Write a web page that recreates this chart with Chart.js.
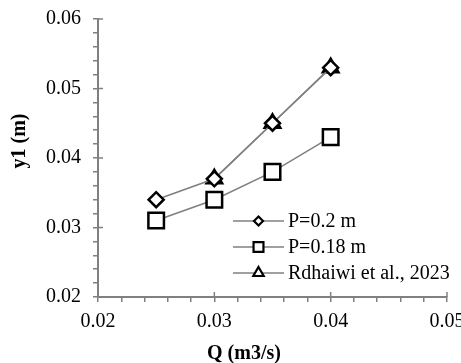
<!DOCTYPE html>
<html>
<head>
<meta charset="utf-8">
<script src="https://cdn.jsdelivr.net/npm/chart.js@4"></script>
<style>
  html, body { margin: 0; padding: 0; background: #fff; }
  #wrap { width: 461px; height: 363px; position: relative; }
</style>
</head>
<body>
<div id="wrap"><canvas id="chart"></canvas></div>
<script>
// data
var qValues = [0.025, 0.03, 0.035, 0.04];
var y1P020 = [0.034, 0.037, 0.045, 0.053];
var y1P018 = [0.031, 0.034, 0.038, 0.043];
var qRdhaiwi = [0.03, 0.035, 0.04];
var y1Rdhaiwi = [0.037, 0.045, 0.053];
var seriesNames = ['P=0.2 m', 'P=0.18 m', 'Rdhaiwi et al., 2023'];
var xTicks = [0.02, 0.03, 0.04, 0.05];
var yTicks = [0.02, 0.03, 0.04, 0.05, 0.06];

var FONT = "'Liberation Serif', 'Times New Roman', serif";
var GRAY = '#808080';

function pts(xs, ys) {
  return xs.map(function (x, i) { return { x: x, y: ys[i] }; });
}
function isMajor(v, list) {
  return list.some(function (t) { return Math.abs(v - t) < 1e-9; });
}

// inner half of major ticks, axis titles and legend
var extras = {
  id: 'extras',
  afterDraw: function (chart) {
    var ctx = chart.ctx, a = chart.chartArea;
    var xs = chart.scales.x, ys = chart.scales.y;
    ctx.save();
    ctx.strokeStyle = GRAY;
    ctx.lineWidth = 1.5;
    xTicks.forEach(function (t) {
      var px = xs.getPixelForValue(t);
      ctx.beginPath(); ctx.moveTo(px, a.bottom); ctx.lineTo(px, a.bottom - 5); ctx.stroke();
    });
    yTicks.forEach(function (t) {
      var py = ys.getPixelForValue(t);
      ctx.beginPath(); ctx.moveTo(a.left, py); ctx.lineTo(a.left + 5, py); ctx.stroke();
    });

    // axis titles
    ctx.fillStyle = '#000';
    ctx.font = 'bold 20px ' + FONT;
    ctx.textAlign = 'center';
    ctx.textBaseline = 'middle';
    ctx.fillText('Q (m3/s)', 244, 354);
    ctx.save();
    ctx.translate(20, 141);
    ctx.rotate(-Math.PI / 2);
    ctx.fillText('y1 (m)', 0, 0);
    ctx.restore();

    // legend
    var rows = [221, 247, 273];
    var sizes = [4.5, 7, 6];
    ctx.font = '20px ' + FONT;
    ctx.textAlign = 'left';
    chart.data.datasets.forEach(function (ds, i) {
      var y = rows[i];
      ctx.strokeStyle = ds.borderColor;
      ctx.lineWidth = ds.borderWidth;
      ctx.beginPath(); ctx.moveTo(233, y); ctx.lineTo(284, y); ctx.stroke();
      ctx.strokeStyle = '#000';
      ctx.fillStyle = '#fff';
      ctx.lineWidth = 2.2;
      Chart.helpers.drawPoint(ctx, { pointStyle: ds.pointStyle, rotation: 0, radius: sizes[i], borderWidth: 2.2 }, 258.5, y);
      ctx.fillStyle = '#000';
      ctx.fillText(ds.label, 288, y + 1);
    });
    ctx.restore();
  }
};

var ctx = document.getElementById('chart').getContext('2d');
var chart = new Chart(ctx, {
  type: 'line',
  data: {
    datasets: [{
      label: seriesNames[0],
      data: pts(qValues, y1P020),
      borderColor: GRAY,
      borderWidth: 1.6,
      pointStyle: 'rectRot',
      pointRadius: 7.5,
      pointBorderWidth: 2.5,
      pointBorderColor: '#000',
      pointBackgroundColor: '#fff'
    }, {
      label: seriesNames[1],
      data: pts(qValues, y1P018),
      borderColor: GRAY,
      borderWidth: 1.6,
      pointStyle: 'rect',
      pointRadius: 11,
      pointBorderWidth: 2.5,
      pointBorderColor: '#000',
      pointBackgroundColor: '#fff'
    }, {
      label: seriesNames[2],
      data: pts(qRdhaiwi, y1Rdhaiwi),
      borderColor: GRAY,
      borderWidth: 1.6,
      pointStyle: 'triangle',
      pointRadius: 9,
      pointBorderWidth: 2.5,
      pointBorderColor: '#000',
      pointBackgroundColor: '#fff'
    }]
  },
  options: {
    responsive: true,
    maintainAspectRatio: false,
    animation: false,
    layout: { padding: { top: 19, right: 14, left: 0, bottom: 0 } },
    plugins: { legend: { display: false }, tooltip: { enabled: false } },
    elements: { line: { tension: 0 } },
    scales: {
      x: {
        type: 'linear',
        min: 0.02,
        max: 0.05,
        border: { color: GRAY, width: 2 },
        grid: { drawOnChartArea: false, drawTicks: true, tickLength: 5, color: GRAY, lineWidth: 1.5 },
        ticks: {
          stepSize: 0.002,
          autoSkip: false,
          maxRotation: 0,
          padding: 8,
          color: '#000',
          font: { family: FONT, size: 20 },
          callback: function (v) { return isMajor(v, xTicks) ? v.toFixed(2) : ''; }
        },
        afterFit: function (s) { s.height = 66; s.paddingLeft = 0; s.paddingRight = 0; }
      },
      y: {
        min: 0.02,
        max: 0.06,
        border: { color: GRAY, width: 2 },
        grid: { drawOnChartArea: false, drawTicks: true, tickLength: 5, color: GRAY, lineWidth: 1.5 },
        ticks: {
          stepSize: 0.002,
          autoSkip: false,
          padding: 12,
          color: '#000',
          font: { family: FONT, size: 20 },
          callback: function (v) { return isMajor(v, yTicks) ? v.toFixed(2) : ''; }
        },
        afterFit: function (s) { s.width = 98; s.paddingTop = 0; s.paddingBottom = 0; }
      }
    }
  },
  plugins: [extras]
});
</script>
</body>
</html>
